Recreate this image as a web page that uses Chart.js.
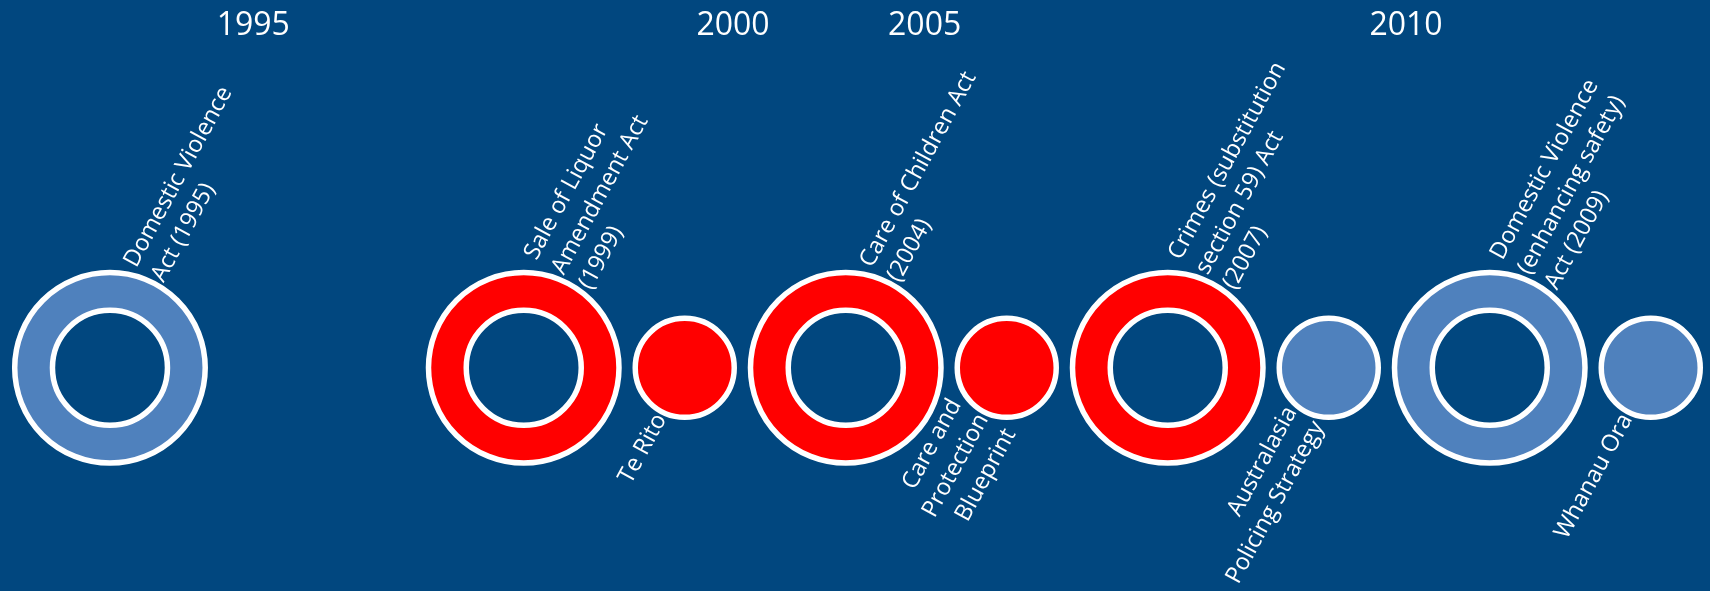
<!DOCTYPE html>
<html lang="en">
<head>
    <meta charset="UTF-8">
    <title>Family Violence Legislation Timeline</title>
    <script src="https://cdn.jsdelivr.net/npm/chart.js"></script>
    <style>
        html, body { margin: 0; padding: 0; background: #01477f; }
        canvas { display: block; }
    </style>
</head>
<body>

<canvas id="timeline" width="1710" height="591"></canvas>

<script>
    // Events along the timeline (slot = position along the line, 1 slot per step)
    const eventNames = [
        ['Domestic Violence', 'Act (1995)'],
        ['Sale of Liquor', 'Amendment Act', '(1999)'],
        ['Te Rito'],
        ['Care of Children Act', '(2004)'],
        ['Care and', 'Protection', 'Blueprint'],
        ['Crimes (substitution', 'section 59) Act', '(2007)'],
        ['Australasia', 'Policing Strategy'],
        ['Domestic Violence', '(enhancing safety)', 'Act (2009)'],
        ['Whanau Ora']
    ];
    const eventSlots = [0, 2.57, 3.57, 4.57, 5.57, 6.57, 7.57, 8.57, 9.57];
    const eventKinds = ['act', 'act', 'policy', 'act', 'policy', 'act', 'policy', 'act', 'policy'];
    const eventHighlighted = [false, true, true, true, true, true, false, false, false];

    // Year markers across the top
    const yearLabels = ['1995', '2000', '2005', '2010'];
    const yearSlots = [0.89, 3.87, 5.06, 8.05];

    const NAVY = '#01477f';
    const BLUE = '#4f81bd';
    const RED = '#ff0000';

    const X_MIN = -0.683;
    const X_MAX = 9.938;

    const eventPoints = eventSlots.map(s => ({ x: s, y: 0 }));
    const holePoints = eventSlots.filter((s, i) => eventKinds[i] === 'act').map(s => ({ x: s, y: 0 }));

    // Rotated text next to each circle
    const eventLabelPlugin = {
        id: 'eventLabels',
        afterDatasetsDraw(chart) {
            const ctx = chart.ctx;
            const meta = chart.getDatasetMeta(0);
            const angle = 61.5 * Math.PI / 180;
            const lineHeight = 31;
            ctx.save();
            ctx.fillStyle = '#ffffff';
            ctx.font = '23.5px "Open Sans"';
            ctx.textBaseline = 'alphabetic';
            meta.data.forEach((pt, i) => {
                const lines = eventNames[i];
                const isAct = eventKinds[i] === 'act';
                const ax = pt.x + (isAct ? 40 : -18);
                const ay = pt.y + (isAct ? -92 : 51);
                ctx.save();
                ctx.translate(ax, ay);
                ctx.rotate(-angle);
                ctx.textAlign = isAct ? 'left' : 'right';
                lines.forEach((line, k) => {
                    ctx.fillText(line, 0, (k - (lines.length - 1) / 2) * lineHeight);
                });
                ctx.restore();
            });
            ctx.restore();
        }
    };

    new Chart(document.getElementById('timeline'), {
        type: 'scatter',
        data: {
            datasets: [
                {
                    label: 'Events',
                    data: eventPoints,
                    order: 2,
                    pointStyle: 'circle',
                    pointRadius: ctx => eventKinds[ctx.dataIndex] === 'act' ? 95.25 : 49.5,
                    pointBackgroundColor: ctx => eventHighlighted[ctx.dataIndex] ? RED : BLUE,
                    pointBorderColor: '#ffffff',
                    pointBorderWidth: 5.5,
                    showLine: false,
                    clip: false
                },
                {
                    label: 'Holes',
                    data: holePoints,
                    order: 1,
                    pointStyle: 'circle',
                    pointRadius: 57.5,
                    pointBackgroundColor: NAVY,
                    pointBorderColor: '#ffffff',
                    pointBorderWidth: 5.5,
                    showLine: false,
                    clip: false
                }
            ]
        },
        options: {
            responsive: false,
            animation: false,
            events: [],
            layout: { padding: { top: 7 }, autoPadding: false },
            plugins: {
                legend: { display: false },
                tooltip: { enabled: false }
            },
            scales: {
                x: {
                    type: 'linear',
                    min: X_MIN,
                    max: X_MAX,
                    display: false
                },
                years: {
                    type: 'linear',
                    axis: 'x',
                    position: 'top',
                    min: X_MIN,
                    max: X_MAX,
                    grid: { display: false },
                    border: { display: false },
                    afterBuildTicks: axis => {
                        axis.ticks = yearSlots.map(v => ({ value: v }));
                    },
                    ticks: {
                        color: '#ffffff',
                        autoSkip: false,
                        maxRotation: 0,
                        padding: 0,
                        font: { family: 'Open Sans', size: 32 },
                        callback: value => yearLabels[yearSlots.indexOf(value)]
                    }
                },
                y: {
                    min: -1,
                    max: 1.409,
                    display: false
                }
            }
        },
        plugins: [eventLabelPlugin]
    });
</script>

</body>
</html>
